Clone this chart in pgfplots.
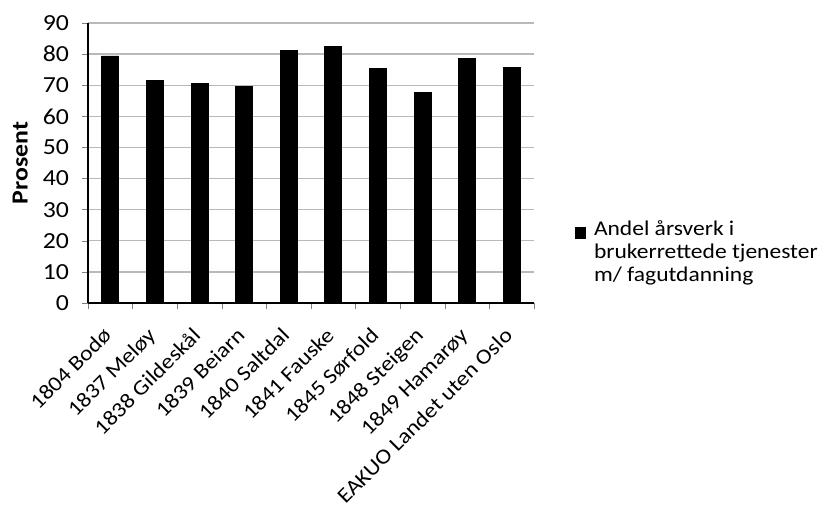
\documentclass[border=0pt]{standalone}
\usepackage{fontspec}
\setmainfont{Carlito}[FakeStretch=1.12]
\usepackage{pgfplots}
\pgfplotsset{compat=1.18}
\begin{document}
\begin{tikzpicture}[x=1pt,y=1pt]
\useasboundingbox (0,0) rectangle (414,253);
\begin{axis}[
  at={(44pt,101.5pt)}, anchor=south west,
  scale only axis, width=223pt, height=140pt,
  ybar, bar width=8.5pt,
  ymin=0, ymax=90, ytick={0,10,...,90},
  xmin=-0.5, xmax=9.5,
  xtick={0,...,9},
  xticklabels={1804 Bodø,1837 Meløy,1838 Gildeskål,1839 Beiarn,1840 Saltdal,1841 Fauske,1845 Sørfold,1848 Steigen,1849 Hamarøy,EAKUO Landet uten Oslo},
  minor xtick={-0.5,0.5,...,9.5},
  major x tick style={draw=none},
  minor tick length=3pt, major tick length=3pt,
  axis x line*=bottom, axis y line*=left,
  tick align=outside,
  ymajorgrids, grid style={gray!55, line width=0.7pt},
  axis line style={black, line width=0.7pt},
  /pgf/number format/assume math mode=true,
  ticklabel style={font=\fontsize{11.5}{12}\selectfont},
  y tick label style={xshift=-3pt},
  x tick label style={font=\fontsize{10.6}{12}\selectfont, rotate=45, anchor=north east, inner sep=1pt, xshift=-8pt, yshift=-2pt},
  ylabel={Prosent},
  ylabel style={font=\fontsize{11.5}{12}\selectfont\bfseries,
    at={(axis description cs:-0.152,0.5)}, anchor=center},
  legend style={at={(1.078,0.18)}, anchor=west, draw=none, fill=none,
    font=\fontsize{10.5}{11.3}\selectfont, nodes={align=left}, column sep=2pt},
  legend cell align=left,
  legend image code/.code={\fill[black] (0pt,7.3pt) rectangle (5pt,12.8pt);},
]
\addplot[fill=black, draw=black] coordinates {
  (0,79.4) (1,71.5) (2,70.6) (3,69.5) (4,81.1)
  (5,82.4) (6,75.4) (7,67.6) (8,78.7) (9,75.6)
};
\addlegendentry{Andel årsverk i\\brukerrettede tjenester\\m/ fagutdanning}
\end{axis}
\end{tikzpicture}
\end{document}
